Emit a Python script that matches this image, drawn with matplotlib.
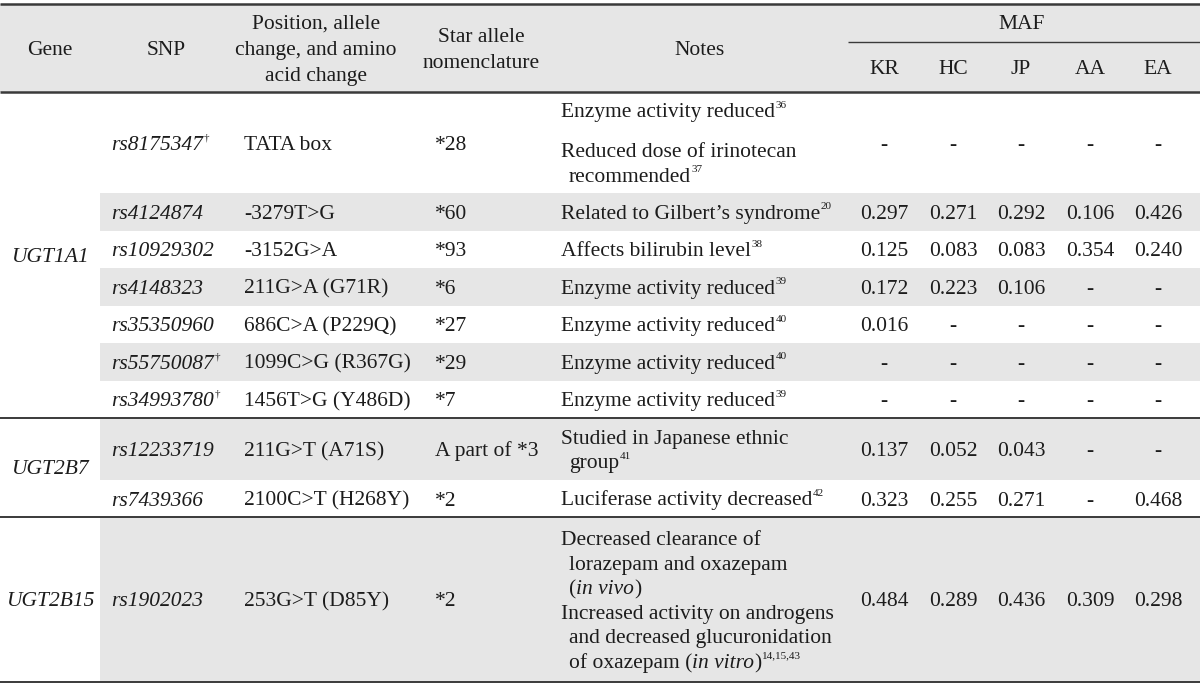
import re
import matplotlib
matplotlib.use("Agg")
import matplotlib.pyplot as plt
from matplotlib.patches import Rectangle

plt.rcParams["font.family"] = ["Liberation Serif", "DejaVu Serif"]

# ------------------------------------------------------------------ #
#  Datos de la tabla                                                 #
# ------------------------------------------------------------------ #
genes = ["UGT1A1", "UGT2B7", "UGT2B15"]
snps_per_gene = [7, 2, 1]

snps = ["rs8175347^†^", "rs4124874", "rs10929302", "rs4148323", "rs35350960",
        "rs55750087^†^", "rs34993780^†^", "rs12233719", "rs7439366", "rs1902023"]
changes = ["TATA box", "-3279T>G", "-3152G>A", "211G>A (G71R)", "686C>A (P229Q)",
           "1099C>G (R367G)", "1456T>G (Y486D)", "211G>T (A71S)",
           "2100C>T (H268Y)", "253G>T (D85Y)"]
star_alleles = ["*28", "*60", "*93", "*6", "*27", "*29", "*7",
                "A part of *3", "*2", "*2"]
# _cursiva_, ^superindice^; lineas que empiezan con espacios van sangradas
notes = [
    ["Enzyme activity reduced^36^", "Reduced dose of irinotecan", "  recommended^37^"],
    ["Related to Gilbert’s syndrome^20^"],
    ["Affects bilirubin level^38^"],
    ["Enzyme activity reduced^39^"],
    ["Enzyme activity reduced^40^"],
    ["Enzyme activity reduced^40^"],
    ["Enzyme activity reduced^39^"],
    ["Studied in Japanese ethnic", "  group^41^"],
    ["Luciferase activity decreased^42^"],
    ["Decreased clearance of", "  lorazepam and oxazepam", "  (_in vivo_)",
     "Increased activity on androgens", "  and decreased glucuronidation",
     "  of oxazepam (_in vitro_)^14,15,43^"],
]
populations = ["KR", "HC", "JP", "AA", "EA"]
maf_kr = ["-", "0.297", "0.125", "0.172", "0.016", "-", "-", "0.137", "0.323", "0.484"]
maf_hc = ["-", "0.271", "0.083", "0.223", "-", "-", "-", "0.052", "0.255", "0.289"]
maf_jp = ["-", "0.292", "0.083", "0.106", "-", "-", "-", "0.043", "0.271", "0.436"]
maf_aa = ["-", "0.106", "0.354", "-", "-", "-", "-", "-", "-", "0.309"]
maf_ea = ["-", "0.426", "0.240", "-", "-", "-", "-", "-", "0.468", "0.298"]
maf_cols = [maf_kr, maf_hc, maf_jp, maf_aa, maf_ea]

# ------------------------------------------------------------------ #
#  Disposicion (pixeles)                                             #
# ------------------------------------------------------------------ #
W, H = 1200, 687
FS, SUP = 15.5, 8
INK = "#1c1c1c"
GREY = "#e6e6e6"
LINE = "#3a3a3a"

head_top, head_mid, head_bot = 4, 42, 92
row_heights = [101, 37.5, 37.5, 37.5, 37.5, 37.5, 37.5, 62, 37, 165]
line_gaps = {0: [40, 25]}
line_step = 24.6

gene_x = 50
snp_x, pos_x, star_x, note_x = 111, 244, 435, 561
maf_x = [884, 953, 1021, 1090, 1158]
maf_line_x0 = 848
shade_x0 = 100

fig = plt.figure(figsize=(W / 100, H / 100), dpi=100)
ax = fig.add_axes([0, 0, 1, 1])
ax.set_xlim(0, W)
ax.set_ylim(H, 0)
ax.axis("off")
renderer = fig.canvas.get_renderer()

TOKEN = re.compile(r"(_[^_]+_|\^[^^]+\^)")


def rich(x, yc, s, style="normal"):
    """Texto alineado a la izquierda con _cursiva_ y ^superindice^."""
    base = yc + 7
    for part in TOKEN.split(s):
        if not part:
            continue
        if part.startswith("^"):
            t = ax.text(x + 0.5, base - 9.5, part[1:-1], fontsize=SUP,
                        va="baseline", ha="left", color=INK)
        elif part.startswith("_"):
            t = ax.text(x, base, part[1:-1], fontsize=FS, style="italic",
                        va="baseline", ha="left", color=INK)
        else:
            t = ax.text(x, base, part, fontsize=FS, style=style,
                        va="baseline", ha="left", color=INK)
        x += t.get_window_extent(renderer).width


def centered(x, yc, s, style="normal"):
    ax.text(x, yc + 7, s, fontsize=FS, style=style, ha="center",
            va="baseline", color=INK)


# cabecera
ax.add_patch(Rectangle((0, head_top), W, head_bot - head_top, color=GREY, lw=0))
header_cols = [
    (gene_x, ["Gene"]),
    (166, ["SNP"]),
    (316, ["Position, allele", "change, and amino", "acid change"]),
    (481, ["Star allele", "nomenclature"]),
    (700, ["Notes"]),
]
hc = (head_top + head_bot) / 2
for x, lines in header_cols:
    n = len(lines)
    for i, s in enumerate(lines):
        centered(x, hc + (i - (n - 1) / 2) * 26, s)
centered(sum(maf_x[1:4]) / 3, 22, "MAF")
for x, p in zip(maf_x, populations):
    centered(x, 67, p)

# filas
tops = [head_bot]
for h in row_heights:
    tops.append(tops[-1] + h)

for i in range(len(snps)):
    y0, y1 = tops[i], tops[i + 1]
    yc = (y0 + y1) / 2
    if i % 2 == 1:
        ax.add_patch(Rectangle((shade_x0, y0), W - shade_x0, y1 - y0,
                               color=GREY, lw=0))
    rich(snp_x, yc, snps[i], style="italic")
    rich(pos_x, yc, changes[i])
    rich(star_x, yc, star_alleles[i])
    lines = notes[i]
    gaps = line_gaps.get(i, [line_step] * (len(lines) - 1))
    offs = [0]
    for g in gaps:
        offs.append(offs[-1] + g)
    start = yc - offs[-1] / 2
    for off, s in zip(offs, lines):
        indent = 8 if s.startswith("  ") else 0
        rich(note_x + indent, start + off, s.strip())
    for x, col in zip(maf_x, maf_cols):
        centered(x, yc, col[i])

# genes
k = 0
for g, n in zip(genes, snps_per_gene):
    centered(gene_x, (tops[k] + tops[k + n]) / 2, g, style="italic")
    k += n

# lineas
ax.hlines(head_top, 0, W, color=LINE, lw=1.8)
ax.hlines(head_mid, maf_line_x0, W, color=LINE, lw=1.0)
ax.hlines(head_bot, 0, W, color=LINE, lw=1.8)
k = 0
for n in snps_per_gene:
    k += n
    ax.hlines(tops[k], 0, W, color=LINE, lw=1.4)

fig.savefig("out.png", dpi=100)
plt.close(fig)
